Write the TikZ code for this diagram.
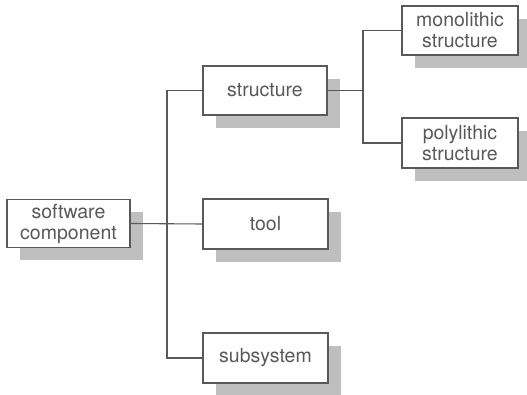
\documentclass[tikz,border=0pt]{standalone}
\usepackage{fontspec}
\setmainfont{TeX Gyre Heros}
\usetikzlibrary{shadows}
\definecolor{inkc}{gray}{0.35}
\definecolor{shadc}{gray}{0.75}
\begin{document}
\begin{tikzpicture}[x=1pt,y=-1pt,
  box/.style={draw=inkc, line width=1.2pt, fill=white, text=inkc,
    align=center, inner sep=0pt,
    font=\fontsize{19.5}{21}\selectfont,
    general shadow={fill=shadc, shadow xshift=13pt, shadow yshift=-13pt}},
  conn/.style={draw=inkc, line width=1.1pt}]
\useasboundingbox (0,0) rectangle (527,395);
\node[box, minimum width=123pt, minimum height=48pt] (sc) at (68.5,223.5) {software\\component};
\node[box, minimum width=124pt, minimum height=49pt] (st) at (265,90.5) {structure};
\node[box, minimum width=125pt, minimum height=50pt] (tool) at (265.5,224) {tool};
\node[box, minimum width=125pt, minimum height=50pt] (sub) at (265.5,358) {subsystem};
\node[box, minimum width=116pt, minimum height=49pt] (mono) at (460,30.5) {monolithic\\structure};
\node[box, minimum width=116pt, minimum height=50pt] (poly) at (460,143) {polylithic\\structure};
\coordinate (j1) at (167,224);
\coordinate (j2) at (363,90);
\draw[conn] (sc.east) -- (tool.west);
\draw[conn] (st.west) -- (st.west -| j1) -- (sub.west -| j1) -- (sub.west);
\draw[conn] (st.east) -- (st.east -| j2);
\draw[conn] (mono.west) -- (mono.west -| j2) -- (poly.west -| j2) -- (poly.west);
\end{tikzpicture}
\end{document}
